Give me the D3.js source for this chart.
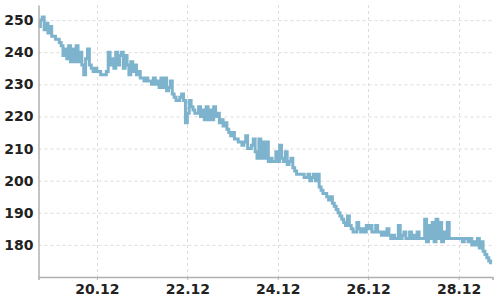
<!DOCTYPE html>
<html><head><meta charset="utf-8">
<script src="https://cdn.jsdelivr.net/npm/d3@7"></script>
<style>body{margin:0;background:#fff}svg{display:block}</style>
</head><body><svg id="c" width="500" height="300"></svg>
<script>
// Series: one reading every hour starting 18.12 17:00
const startTime = "2024-12-18T17:00:00";
const stepHours = 1;
const values = [
 248,250,251,247, 249,246,248,245, 245,244,244,243, 242,239,241,238,
 242,237,241,237, 242,237,240,236, 233,238,241,236, 235,234,235,234,
 234,233,233,233, 234,240,236,238, 235,240,236,239, 240,235,239,236,
 233,237,234,236, 233,234,232,232, 231,232,231,231, 230,232,230,231,
 229,232,229,232, 228,229,231,227, 226,225,225,226, 227,225,218,221,
 225,223,222,221, 221,223,220,222, 219,223,219,222, 219,223,220,221,
 218,219,217,218, 216,215,214,215, 213,213,212,212, 211,212,214,210,
 210,211,213,209, 207,213,207,212, 207,212,206,207, 206,206,209,206,
 211,207,206,209, 205,206,207,204, 203,202,202,202, 202,201,201,202,
 200,201,202,200, 202,198,197,196, 196,195,194,195, 193,192,191,190,
 189,188,187,186, 189,186,185,184, 184,187,185,184, 185,184,186,185,
 186,184,184,186, 184,184,183,184, 183,185,183,182, 183,182,182,186,
 182,183,184,182, 182,184,182,183, 182,184,182,182, 182,188,181,186,
 182,187,181,188, 182,187,181,184, 182,187,182,182, 182,182,182,182,
 182,181,182,182, 181,182,180,181, 180,182,179,181, 178,177,176,175,
 174
];
const yTicks = [180,190,200,210,220,230,240,250];
const xTickLabels = ["20.12","22.12","24.12","26.12","28.12"];
const xTickDates = ["2024-12-20","2024-12-22","2024-12-24","2024-12-26","2024-12-28"];
const xDomain = ["2024-12-18T17:00:00","2024-12-28T18:00:00"];
const yDomain = [170, 254.7];

const svg = d3.select("#c");
const m = {l:38.5, r:7.5, t:5, b:23};
const W = 500, H = 300;
const parse = s => new Date(s);
const t0 = parse(startTime);
const data = values.map((v,i)=>({t:new Date(t0.getTime()+i*stepHours*3600e3), v}));

const x = d3.scaleTime().domain(xDomain.map(parse)).range([m.l, W-m.r]);
const y = d3.scaleLinear().domain(yDomain).range([H-m.b, m.t]);

// grid
const g = svg.append("g");
g.selectAll("line.hg").data(yTicks).join("line")
 .attr("x1",m.l).attr("x2",W-m.r).attr("y1",d=>y(d)+0.5).attr("y2",d=>y(d)+0.5)
 .attr("stroke","#dcdcdc").attr("stroke-dasharray","3,3");
g.selectAll("line.vg").data(xTickDates).join("line")
 .attr("x1",d=>Math.round(x(parse(d)))+0.5).attr("x2",d=>Math.round(x(parse(d)))+0.5)
 .attr("y1",m.t).attr("y2",H-m.b)
 .attr("stroke","#dcdcdc").attr("stroke-dasharray","3,3");

// line
const line = d3.line().x(d=>x(d.t)).y(d=>y(d.v)).curve(d3.curveStepAfter);
svg.append("path").datum(data).attr("d",line)
 .attr("fill","none").attr("stroke","#7db3cc").attr("stroke-width",3)
 .attr("stroke-linejoin","miter");

// axes
const yAxis = d3.axisLeft(y).tickValues(yTicks).tickSize(0).tickPadding(5);
const ya = svg.append("g").attr("transform",`translate(${m.l},0)`).call(yAxis);
ya.select(".domain").attr("stroke","#b0b0b0").attr("stroke-width",1.5);
ya.selectAll("text").attr("font-family","DejaVu Sans").attr("font-weight","bold")
 .attr("font-size",14).attr("fill","#222");

const xAxis = d3.axisBottom(x).tickValues(xTickDates.map(parse))
 .tickFormat((d,i)=>xTickLabels[i]).tickSize(3).tickPadding(4);
const xa = svg.append("g").attr("transform",`translate(0,${H-m.b})`).call(xAxis);
xa.select(".domain").attr("stroke","#b0b0b0").attr("stroke-width",1.5);
xa.selectAll(".tick line").attr("stroke","#b0b0b0");
xa.selectAll("text").attr("font-family","DejaVu Sans").attr("font-weight","bold")
 .attr("font-size",14).attr("fill","#222");
</script></body></html>
